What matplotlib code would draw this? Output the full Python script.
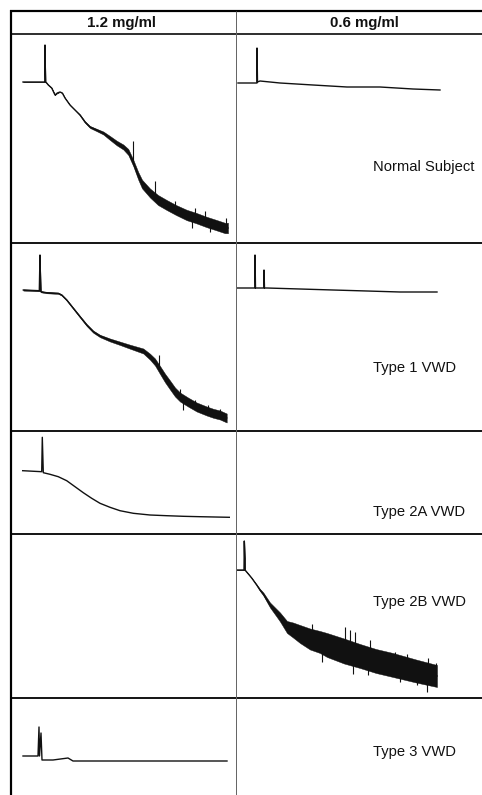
import numpy as np
import matplotlib
matplotlib.use("Agg")
import matplotlib.pyplot as plt
from matplotlib.lines import Line2D

# ---------------- data (time in s, aggregation in arbitrary units; increasing downward) -------------
col_labels = ["1.2 mg/ml", "0.6 mg/ml"]
row_labels = ["Normal Subject", "Type 1 VWD", "Type 2A VWD", "Type 2B VWD", "Type 3 VWD"]

# Normal subject, 1.2 mg/ml
n12_t = [12, 34, 34, 34.5, 35.7, 37.3, 40.7, 44, 46.3, 49, 51.3, 54, 59, 64, 69, 74, 79, 85.7,
         92.3, 99, 105.7, 112.3, 117.3, 122.3, 127.3, 131, 139, 147, 155.7, 165, 175.7, 185,
         195.7, 205, 214, 217]
n12_v = [48, 48, 11, 48, 49, 51, 54, 61, 59, 58, 59, 64, 71, 76, 81, 88, 93, 96,
         99, 104, 109, 113, 118, 129, 142, 150, 159, 166, 171, 176, 181, 184,
         188, 191, 194, 194]
n12_n = [0, 0, 0, 0, 0, 0, 0, 0, 0, 0, 0, 0, 0, 0, 0.5, 0.8, 1, 1.2,
         1.5, 2, 2.3, 2.5, 3, 3.2, 3.8, 4.3, 4.5, 5, 5, 5, 5.2, 5.2,
         5.2, 5.2, 5.2, 5.2]
n12_spk_t = [122, 144, 164, 181, 184, 194, 199, 215]
n12_spk_top = [107, 147, 167, 182, 174, 177, 189, 184]
n12_spk_bot = [130, 165, 176, 194, 184, 188, 198, 194]

# Normal subject, 0.6 mg/ml
n06_t = [2, 21, 21, 21.5, 24, 44, 77, 111, 144, 177, 204]
n06_v = [49, 49, 14, 48, 47, 49, 51, 53, 53, 55, 56]

# Type 1, 1.2 mg/ml
t1_12_t = [12.3, 28.3, 29, 29.7, 35.7, 47.3, 50.7, 55.7, 62.3, 69, 75.7, 82.3, 89, 99, 109, 119,
           132.3, 139, 144, 149, 154, 159, 164, 169, 177, 185.7, 195.7, 202.3, 209, 215.7]
t1_12_v = [47, 47.7, 12, 48.7, 49.7, 50.3, 52, 57, 65.3, 73.7, 82, 88.7, 93, 97, 100.3, 103.7,
           108, 113.7, 119, 127, 135, 142, 149, 154, 159, 164, 168, 170.3, 172, 175]
t1_12_n = [0.6, 0.6, 0, 0.6, 0.6, 0.6, 0.6, 0.6, 0.7, 0.8, 1, 1.1, 1.2, 1.5, 1.7, 2,
           2.5, 3, 3.5, 4, 4.3, 4.5, 4.5, 4.5, 4.5, 4.5, 4.5, 4.5, 4.5, 4.5]
t1_12_spk_t = [148, 169, 172, 184, 197, 209]
t1_12_spk_top = [112, 146, 154, 157, 162, 166]
t1_12_spk_bot = [127, 154, 167, 164, 168, 172]

# Type 1, 0.6 mg/ml
t1_06_t = [1, 19, 19, 19.5, 28, 28, 28.5, 31, 64, 97, 131, 164, 201]
t1_06_v = [45, 45, 12, 45, 45, 27, 45, 45, 46, 47, 48, 49, 49]

# Type 2A, 1.2 mg/ml
t2a_t = [11.7, 30.7, 31.3, 32.3, 39, 47.3, 55.7, 64, 72.3, 80.7, 89, 99, 109, 122.3, 139,
         155.7, 172.3, 189, 218.3]
t2a_v = [39.7, 40.7, 6.3, 41.7, 43.3, 45.7, 49.7, 55.7, 61.7, 67.3, 72.3, 76.3, 79.7, 82.3, 84,
         84.7, 85.3, 85.7, 86.3]

# Type 2B, 0.6 mg/ml
t2b_t = [0.7, 8, 8.3, 9, 10.7, 15.7, 20.7, 24, 27.3, 34, 40.7, 44, 51, 57, 64, 74, 84, 91,
         108, 124, 140, 157, 180, 201]
t2b_v = [36, 36, 7, 36, 38, 44, 51, 56, 60, 71, 79, 83, 93, 96, 100, 105, 108, 111,
         117, 122, 127, 131, 137, 142]
t2b_n = [0, 0, 0, 0, 0, 0, 0.5, 1, 1.5, 2.5, 3.8, 4.5, 6, 7.5, 9, 10.5, 11, 12,
         12.5, 12, 12, 12, 11.5, 11]
t2b_spk_t = [76, 86, 109, 114, 117, 119, 132, 134, 159, 164, 171, 181, 191, 192, 200]
t2b_spk_top = [90, 108, 93, 96, 117, 98, 124, 106, 118, 131, 120, 137, 140, 124, 129]
t2b_spk_bot = [106, 128, 117, 118, 140, 119, 141, 125, 132, 148, 134, 151, 158, 139, 145]

# Type 3, 1.2 mg/ml
t3_t = [12, 27, 28, 28.5, 30, 31, 42, 57, 62, 122, 216]
t3_v = [58, 58, 29, 58, 35, 62, 62, 60, 63, 63, 63]

# ---------------- layout (pixels) ----------------
W, H = 482, 795
X_LEFT, X_MID, X_RIGHT = 11, 236, 492
Y_TOP, Y_HEAD = 10.5, 34
ROW_Y = [34, 243, 431, 534, 698, 800]

fig = plt.figure(figsize=(W / 100, H / 100), dpi=100)
fig.patch.set_facecolor("white")

def px_line(x0, y0, x1, y1, lw_px, color="black"):
    fig.add_artist(Line2D([x0 / W, x1 / W], [1 - y0 / H, 1 - y1 / H],
                          transform=fig.transFigure, lw=lw_px * 0.72, color=color,
                          solid_capstyle="butt"))

def cell_ax(row, col):
    x0 = X_LEFT if col == 0 else X_MID
    x1 = X_MID if col == 0 else X_RIGHT
    y0, y1 = ROW_Y[row], ROW_Y[row + 1]
    ax = fig.add_axes([x0 / W, 1 - y1 / H, (x1 - x0) / W, (y1 - y0) / H])
    ax.set_xlim(0, x1 - x0)
    ax.set_ylim(y1 - y0, 0)
    ax.axis("off")
    return ax

LW = 1.0
INK = "#111111"

def trace(ax, t, v, noise=None, spk=None):
    t = np.asarray(t, float); v = np.asarray(v, float)
    ax.plot(t, v, color=INK, lw=LW, solid_joinstyle="round")
    if noise is not None:
        n = np.asarray(noise, float)
        ax.fill_between(t, v - n, v + n, color=INK, lw=0.3)
    if spk is not None:
        ax.vlines(spk[0], spk[1], spk[2], color=INK, lw=0.8)

ax = cell_ax(0, 0); trace(ax, n12_t, n12_v, n12_n, (n12_spk_t, n12_spk_top, n12_spk_bot))
ax = cell_ax(0, 1); trace(ax, n06_t, n06_v)
ax = cell_ax(1, 0); trace(ax, t1_12_t, t1_12_v, t1_12_n, (t1_12_spk_t, t1_12_spk_top, t1_12_spk_bot))
ax = cell_ax(1, 1); trace(ax, t1_06_t, t1_06_v)
ax = cell_ax(2, 0); trace(ax, t2a_t, t2a_v)
ax = cell_ax(3, 1); trace(ax, t2b_t, t2b_v, t2b_n, (t2b_spk_t, t2b_spk_top, t2b_spk_bot))
ax = cell_ax(4, 0); trace(ax, t3_t, t3_v)

# ---------------- table lines ----------------
px_line(X_LEFT - 1, Y_TOP, W, Y_TOP, 2.2)
px_line(X_LEFT, Y_TOP - 1, X_LEFT, H, 2.2)
px_line(X_LEFT, Y_HEAD, W, Y_HEAD, 1.6)
for y in ROW_Y[1:5]:
    px_line(X_LEFT, y, W, y, 1.8)
px_line(X_MID, Y_TOP, X_MID, H, 1.0, color="#666666")

# ---------------- text ----------------
FONT = ["Liberation Sans", "DejaVu Sans"]
fig.text(((X_LEFT + X_MID) / 2 - 2) / W, 1 - 23 / H, col_labels[0], ha="center", va="center",
         fontsize=10.8, fontweight="bold", family=FONT, color="#111111")
fig.text(364 / W, 1 - 23 / H, col_labels[1], ha="center", va="center",
         fontsize=10.8, fontweight="bold", family=FONT, color="#111111")
label_y = [167, 368, 512, 602, 752]
for lab, y in zip(row_labels, label_y):
    fig.text(373 / W, 1 - y / H, lab, ha="left", va="center", fontsize=10.6, family=FONT,
             color="#111111")

fig.savefig("out.png", dpi=100, facecolor="white")
